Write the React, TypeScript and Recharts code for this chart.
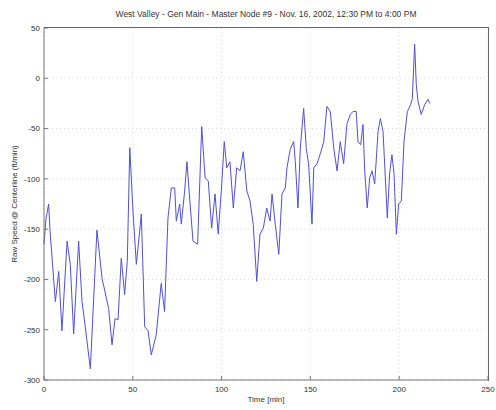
import React from "react";
import {
  LineChart,
  Line,
  XAxis,
  YAxis,
  CartesianGrid,
} from "recharts";

// time in minutes
const times = [
  0, 1.1, 2.6, 3.4, 6.4, 8.3, 10.1, 13, 14.8, 16.7, 19.5, 21.4, 23.3, 26.1, 29.8,
  32.7, 36.4, 38.3, 40, 41.7, 43.5, 45.4, 46.9, 48.3, 50.1, 52, 54.8, 56.7, 58.6,
  60.4, 63.2, 66, 67.9, 69.8, 71.7, 73.6, 74.5, 76.4, 77.3, 79.2, 80.5, 82, 83.9,
  86.5, 88.8, 90.7, 92.5, 94.4, 96.3, 98.1, 100.1, 101.5, 102.9, 104.7, 106.6,
  108.5, 110.4, 112.2, 114.2, 116, 117.8, 119.8, 121.6, 123.5, 125.4, 127.3,
  128.4, 130.2, 132.2, 134, 135.9, 136.8, 138.7, 140.6, 141.5, 143, 144.3, 146.2,
  147.7, 149, 150.9, 151.9, 153.7, 155.6, 157.5, 159.3, 161.2, 163.2, 165, 166.8,
  168.7, 170.6, 172.5, 174, 175.8, 176.8, 178.3, 179.6, 180.6, 182, 183.4, 184.7,
  186.2, 188.1, 189.4, 190.9, 192.2, 193.3, 194.6, 195.9, 197.1, 198.4, 199.7,
  201.2, 202.7, 204.6, 206.5, 207.4, 208.7, 209.6, 210.6, 212.4, 214.4, 216.2,
  217.2,
];

const speeds = [
  -165, -140, -125, -152, -222, -192, -251, -162, -185, -254, -162, -222, -248,
  -289, -151, -199, -229, -265, -239, -240, -179, -215, -182, -69, -132, -185,
  -135, -247, -251, -275, -255, -204, -232, -139, -109, -109, -142, -125, -145,
  -112, -83, -119, -162, -165, -48, -99, -102, -149, -115, -155, -105, -63, -89,
  -83, -129, -89, -92, -73, -112, -122, -145, -202, -155, -149, -129, -142, -115,
  -145, -175, -115, -109, -89, -70, -63, -83, -129, -70, -30, -70, -85, -145, -89,
  -85, -75, -63, -28, -33, -70, -92, -63, -85, -45, -36, -33, -33, -63, -66, -46,
  -92, -129, -99, -92, -105, -53, -40, -53, -99, -139, -95, -76, -95, -155, -125,
  -122, -63, -33, -26, -20, 34, -6, -23, -36, -26, -21, -25,
];

const xTicks = [0, 50, 100, 150, 200, 250];
const yTicks = [-300, -250, -200, -150, -100, -50, 0, 50];

const data = times.map((t, i) => ({ t, v: speeds[i] }));

const font = "'Liberation Sans', Arial, sans-serif";
const tickStyle = { fontSize: 8, fill: "#333", fontFamily: font };

export default function App() {
  return (
    <div style={{ position: "absolute", left: 0, top: 0, width: 496, height: 410, background: "#fff" }}>
      <div
        style={{
          position: "absolute",
          left: 44,
          width: 444,
          top: 9,
          textAlign: "center",
          fontFamily: font,
          fontSize: 8.5,
          color: "#333",
        }}
      >
        West Valley - Gen Main - Master Node #9 - Nov. 16, 2002, 12:30 PM to 4:00 PM
      </div>
      <LineChart width={496} height={410} data={data} margin={{ top: 28, right: 8, bottom: 0, left: 0 }}>
        <CartesianGrid stroke="#dcdcdc" strokeDasharray="1 3" />
        <XAxis
          dataKey="t"
          type="number"
          domain={[0, 250]}
          ticks={xTicks}
          height={30}
          stroke="#777"
          tickSize={-4}
          tickMargin={10}
          tick={tickStyle}
          label={{ value: "Time [min]", position: "insideBottom", offset: 8, style: tickStyle }}
        />
        <YAxis
          type="number"
          domain={[-300, 50]}
          ticks={yTicks}
          width={44}
          stroke="#777"
          tickSize={-4}
          tickMargin={8}
          tick={tickStyle}
          label={{
            value: "Raw Speed @ Centerline (ft/min)",
            angle: -90,
            position: "insideLeft",
            offset: 14,
            style: { ...tickStyle, textAnchor: "middle" },
          }}
        />
        <Line
          type="linear"
          dataKey="v"
          stroke="#5050d4"
          strokeWidth={1}
          dot={false}
          isAnimationActive={false}
        />
      </LineChart>
      {/* axes box (top and right edges) */}
      <div
        style={{
          position: "absolute",
          left: 44,
          top: 27,
          width: 445,
          height: 354,
          border: "1px solid #666",
          borderLeft: "none",
          borderBottom: "none",
          boxSizing: "border-box",
          pointerEvents: "none",
          zIndex: 5,
        }}
      />
    </div>
  );
}
